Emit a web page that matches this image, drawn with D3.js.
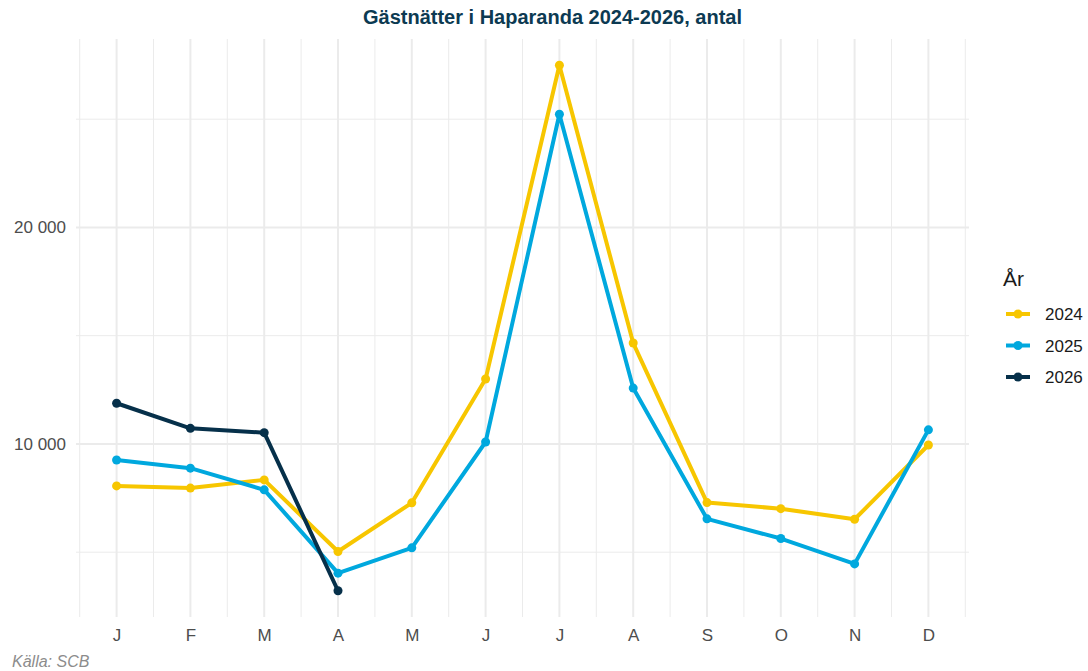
<!DOCTYPE html>
<html>
<head>
<meta charset="utf-8">
<script src="https://cdn.jsdelivr.net/npm/d3@7"></script>
<style>
  body { margin: 0; background: #fff; }
  svg { font-family: "Liberation Sans", Arial, sans-serif; }
</style>
</head>
<body>
<div id="chart"></div>
<script>
// Gästnätter i Haparanda, per månad och år

const months = ["J", "F", "M", "A", "M", "J", "J", "A", "S", "O", "N", "D"];
const years = ["2024", "2025", "2026"];
const values2024 = [8060, 7960, 8340, 5030, 7280, 13000, 27490, 14660, 7290, 7010, 6520, 9950];
const values2025 = [9260, 8880, 7880, 4030, 5200, 10090, 25230, 12580, 6540, 5630, 4460, 10650];
const values2026 = [11880, 10720, 10520, 3220];
const yTicks = [10000, 20000];
const yMinor = [5000, 15000, 25000];

const colors = { "2024": "#f7c600", "2025": "#00a8de", "2026": "#06304a" };
const series = [
  { year: "2024", values: values2024 },
  { year: "2025", values: values2025 },
  { year: "2026", values: values2026 }
];

const W = 1088, H = 671;
const margin = { top: 39, right: 119, bottom: 54, left: 76 };
const innerW = W - margin.left - margin.right;
const innerH = H - margin.top - margin.bottom;

const svg = d3.select("#chart").append("svg")
  .attr("width", W).attr("height", H);

const g = svg.append("g").attr("transform", `translate(${margin.left},${margin.top})`);

// ggplot-like 5% expansion
const allVals = series.flatMap(s => s.values);
const [vMin, vMax] = d3.extent(allVals);
const pad = (vMax - vMin) * 0.05;
const y = d3.scaleLinear().domain([vMin - pad, vMax + pad]).range([innerH, 0]);
const x = d3.scaleLinear().domain([1 - 0.55, 12 + 0.55]).range([0, innerW]);

const grid = "#ebebeb";
// minor grid
g.append("g").selectAll("line").data(yMinor).join("line")
  .attr("x1", 0).attr("x2", innerW)
  .attr("y1", d => y(d)).attr("y2", d => y(d))
  .attr("stroke", grid).attr("stroke-width", 1);
g.append("g").selectAll("line").data(d3.range(0.5, 13, 1)).join("line")
  .attr("x1", d => x(d)).attr("x2", d => x(d))
  .attr("y1", 0).attr("y2", innerH)
  .attr("stroke", grid).attr("stroke-width", 1);
// major grid
g.append("g").selectAll("line").data(yTicks).join("line")
  .attr("x1", 0).attr("x2", innerW)
  .attr("y1", d => y(d)).attr("y2", d => y(d))
  .attr("stroke", grid).attr("stroke-width", 2);
g.append("g").selectAll("line").data(d3.range(1, 13)).join("line")
  .attr("x1", d => x(d)).attr("x2", d => x(d))
  .attr("y1", 0).attr("y2", innerH)
  .attr("stroke", grid).attr("stroke-width", 2);

// axes
const fmt = d => d3.format(",")(d).replace(/,/g, " ");
g.append("g")
  .call(d3.axisLeft(y).tickValues(yTicks).tickFormat(fmt).tickSize(0).tickPadding(10))
  .call(a => a.select(".domain").remove())
  .selectAll("text")
  .style("font-size", "17px").style("fill", "#4d4d4d");

g.append("g")
  .attr("transform", `translate(0,${innerH})`)
  .call(d3.axisBottom(x).tickValues(d3.range(1, 13)).tickFormat(d => months[d - 1]).tickSize(0).tickPadding(12))
  .call(a => a.select(".domain").remove())
  .selectAll("text")
  .style("font-size", "17px").style("fill", "#4d4d4d");

// lines + points
const line = d3.line().x((d, i) => x(i + 1)).y(d => y(d));
series.forEach(s => {
  g.append("path")
    .datum(s.values)
    .attr("fill", "none")
    .attr("stroke", colors[s.year])
    .attr("stroke-width", 4)
    .attr("stroke-linejoin", "round")
    .attr("d", line);
  g.append("g").selectAll("circle").data(s.values).join("circle")
    .attr("cx", (d, i) => x(i + 1))
    .attr("cy", d => y(d))
    .attr("r", 4.5)
    .attr("fill", colors[s.year]);
});

// title
svg.append("text")
  .attr("x", margin.left + innerW / 2 + 30).attr("y", 24)
  .attr("text-anchor", "middle")
  .style("font-size", "20px").style("font-weight", "700")
  .style("fill", "#0c3a52")
  .text("Gästnätter i Haparanda 2024-2026, antal");

// legend
const lg = svg.append("g").attr("transform", "translate(1003,0)");
lg.append("text").attr("x", 0).attr("y", 286)
  .style("font-size", "21px").style("fill", "#1a1a1a").text("År");
years.forEach((yr, i) => {
  const cy = 314 + i * 31.5;
  lg.append("line").attr("x1", 3).attr("x2", 27).attr("y1", cy).attr("y2", cy)
    .attr("stroke", colors[yr]).attr("stroke-width", 4);
  lg.append("circle").attr("cx", 15).attr("cy", cy).attr("r", 4.5).attr("fill", colors[yr]);
  lg.append("text").attr("x", 42).attr("y", cy + 6)
    .style("font-size", "17px").style("fill", "#1a1a1a").text(yr);
});

// caption
svg.append("text")
  .attr("x", 12).attr("y", 667)
  .style("font-size", "16px").style("font-style", "italic").style("fill", "#8c8c8c")
  .text("Källa: SCB");
</script>
</body>
</html>
